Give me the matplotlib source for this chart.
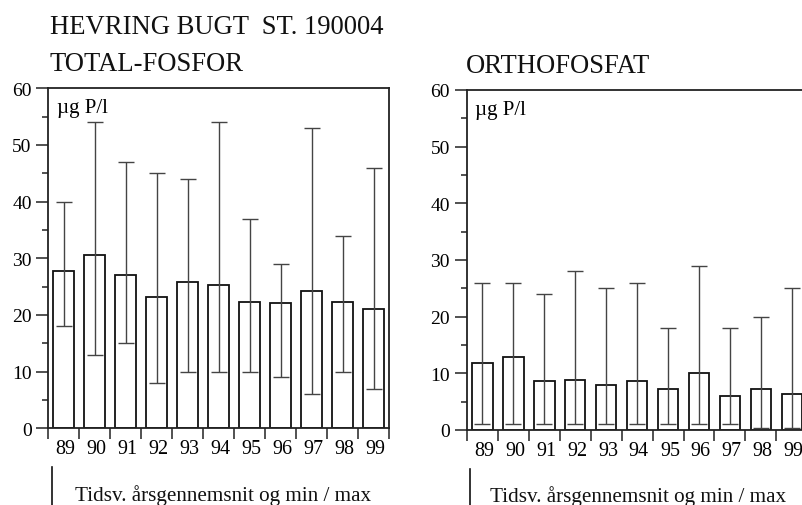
import matplotlib
matplotlib.use("Agg")
import numpy as np
import matplotlib.pyplot as plt
from matplotlib.lines import Line2D

plt.rcParams['font.family'] = ['Liberation Serif', 'DejaVu Serif']

years = ['89', '90', '91', '92', '93', '94', '95', '96', '97', '98', '99']

# total-fosfor (ug P/l)
tp_mean = [27.8, 30.6, 27.0, 23.2, 25.8, 25.3, 22.3, 22.1, 24.2, 22.3, 21.0]
tp_min = [18, 13, 15, 8, 10, 10, 10, 9, 6, 10, 7]
tp_max = [40, 54, 47, 45, 44, 54, 37, 29, 53, 34, 46]

# orthofosfat (ug P/l)
po_mean = [11.9, 12.8, 8.7, 8.8, 7.9, 8.7, 7.3, 10.0, 6.0, 7.2, 6.3]
po_min = [1, 1, 1, 1, 1, 1, 1, 1, 1, 0.3, 0.3]
po_max = [26, 26, 24, 28, 25, 26, 18, 29, 18, 20, 25]

W, H = 803, 506
fig = plt.figure(figsize=(W / 100, H / 100), dpi=100)


def panel(rect, mean, lo, hi, right_spine=True):
    ax = fig.add_axes(rect)
    x = np.arange(len(years))
    ax.bar(x, mean, width=0.67, color='white', edgecolor='#111111', linewidth=1.3, zorder=2)
    yerr = [np.array(mean) - np.array(lo), np.array(hi) - np.array(mean)]
    ax.errorbar(x, mean, yerr=yerr, fmt='none', ecolor='#444444', elinewidth=1.0,
                capsize=5.5, capthick=1.0, zorder=3)
    ax.set_xlim(-0.5, len(years) - 0.5)
    ax.set_ylim(0, 60)
    # x: tick marks at the boundaries, labels in between
    ax.set_xticks(np.arange(len(years) + 1) - 0.5)
    ax.set_xticklabels([])
    ax.set_xticks(x + 0.06, minor=True)
    ax.set_xticklabels(years, minor=True, fontsize=14.5)
    ax.tick_params(axis='x', which='major', direction='out', length=8, width=1.1, color='#222222')
    ax.tick_params(axis='x', which='minor', length=0, pad=8)
    # y
    ax.set_yticks(range(0, 61, 10))
    ax.set_yticks(range(5, 60, 10), minor=True)
    ax.tick_params(axis='y', which='major', direction='out', length=8.5, width=1.1,
                   labelsize=14, pad=3.5, color='#222222')
    ax.tick_params(axis='y', which='minor', direction='out', length=4.5, width=1.1, color='#222222')
    for s in ax.spines.values():
        s.set_linewidth(1.3)
        s.set_color('#222222')
    ax.spines['right'].set_visible(right_spine)
    ax.text(0.025, 0.97, 'µg P/l', transform=ax.transAxes, fontsize=15, va='top', ha='left')
    return ax


panel([48.3 / W, 1 - 429.3 / H, 340.7 / W, 340 / H], tp_mean, tp_min, tp_max)
panel([466.7 / W, 1 - 431 / H, 340.7 / W, 340 / H], po_mean, po_min, po_max, right_spine=False)


def ftext(px, py, s, size):
    fig.text(px / W, 1 - py / H, s, fontsize=size, va='baseline', ha='left', color='#111111')


ftext(50, 34, 'HEVRING BUGT  ST. 190004', 19.2)
ftext(50, 71, 'TOTAL-FOSFOR', 19.2)
ftext(466, 73, 'ORTHOFOSFAT', 19.2)
ftext(75, 501, 'Tidsv. årsgennemsnit og min / max', 15.2)
ftext(490, 502, 'Tidsv. årsgennemsnit og min / max', 15.2)

fig.add_artist(Line2D([52 / W, 52 / W], [1 - 468 / H, 0], color='#111111', linewidth=1.2))
fig.add_artist(Line2D([470 / W, 470 / W], [1 - 470 / H, 0], color='#111111', linewidth=1.2))

fig.savefig('out.png', dpi=100)
